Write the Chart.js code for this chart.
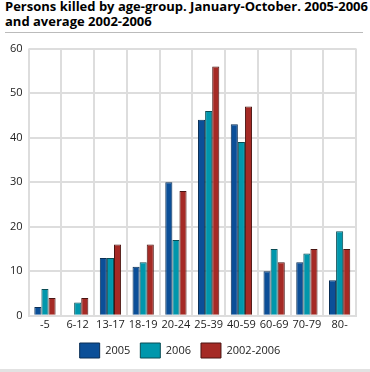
<!DOCTYPE html>
<html>
<head>
<meta charset="utf-8">
<script src="https://cdn.jsdelivr.net/npm/chart.js@4"></script>
<style>
  body { margin: 0; background: #fff; width: 370px; height: 372px; overflow: hidden; font-family: "Open Sans", "DejaVu Sans", sans-serif; }
  #titel { position: absolute; left: 5px; top: -1px; font-size: 13px; font-weight: bold; line-height: 15px; color: #000; white-space: nowrap; }
  #strek { position: absolute; left: 5px; top: 32px; width: 358px; height: 1px; background: #bbb; }
  #boks { position: absolute; left: 0; top: 36px; width: 370px; height: 332px; }
  #bunn { position: absolute; left: 0; top: 369px; width: 370px; height: 3px; background: #e2e2e2; }
</style>
</head>
<body>
<div id="titel">Persons killed by age-group. January-October. 2005-2006<br>and average 2002-2006</div>
<div id="strek"></div>
<div id="boks"><canvas id="grafikk"></canvas></div>
<div id="bunn"></div>
<script>
const aldersgrupper = ['-5', '6-12', '13-17', '18-19', '20-24', '25-39', '40-59', '60-69', '70-79', '80-'];
const drepte2005 = [2, 0, 13, 11, 30, 44, 43, 10, 12, 8];
const drepte2006 = [6, 3, 13, 12, 17, 46, 39, 15, 14, 19];
const snitt0206 = [4, 4, 16, 16, 28, 56, 47, 12, 15, 15];
const yTicks = [0, 10, 20, 30, 40, 50, 60];

const skrift = { family: '"Open Sans", "DejaVu Sans", sans-serif', size: 11 };

const grafikk = document.getElementById('grafikk');
const diagram = new Chart(grafikk, {
  type: 'bar',
  data: {
    labels: aldersgrupper,
    datasets: [{
      label: '2005',
      data: drepte2005,
      backgroundColor: '#0b4f98',
      borderColor: '#0a2e55',
      borderWidth: 1
    }, {
      label: '2006',
      data: drepte2006,
      backgroundColor: '#0097ac',
      borderColor: '#0a4d55',
      borderWidth: 1
    }, {
      label: '2002-2006',
      data: snitt0206,
      backgroundColor: '#a52a25',
      borderColor: '#4a1512',
      borderWidth: 1
    }]
  },
  options: {
    responsive: true,
    maintainAspectRatio: false,
    animation: false,
    layout: { padding: { left: 4, right: 14, top: 8, bottom: 0 } },
    datasets: { bar: { categoryPercentage: 0.65, barPercentage: 1 } },
    scales: {
      x: {
        grid: { color: '#dddddd', lineWidth: 2, offset: true, drawTicks: false },
        border: { color: '#dddddd', width: 2 },
        ticks: { color: '#222', font: skrift, padding: 2, maxRotation: 0, autoSkip: false }
      },
      y: {
        min: 0,
        max: 60,
        afterBuildTicks: (akse) => { akse.ticks = yTicks.map(v => ({ value: v })); },
        grid: { color: '#dddddd', lineWidth: 2, drawTicks: false },
        border: { display: false },
        ticks: { color: '#222', font: skrift, padding: 6 }
      }
    },
    plugins: {
      legend: {
        position: 'bottom',
        labels: { boxWidth: 20, boxHeight: 15, color: '#222', font: skrift, padding: 10 }
      },
      tooltip: { enabled: false }
    }
  }
});
</script>
</body>
</html>
